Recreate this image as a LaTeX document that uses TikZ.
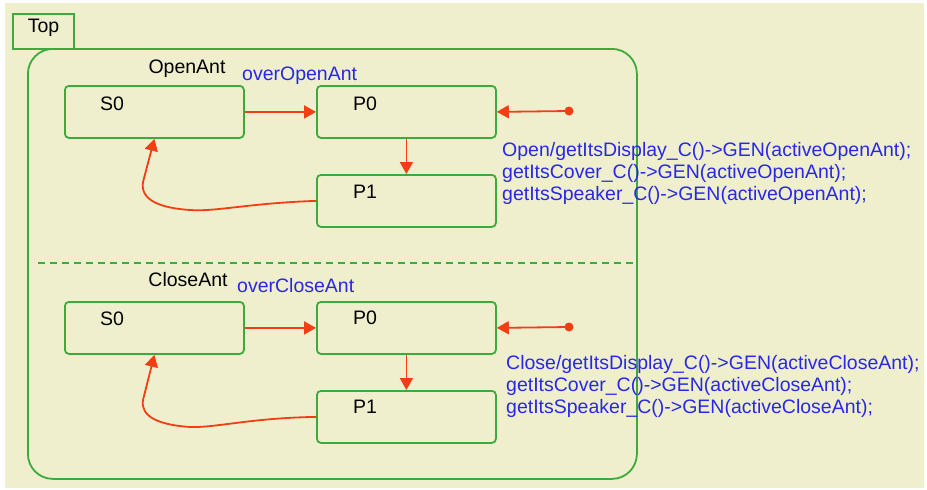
\documentclass[tikz,border=0pt]{standalone}
\usepackage{fontspec}
\setmainfont{Liberation Sans}
\usetikzlibrary{arrows.meta,calc}
\definecolor{bg}{RGB}{239,239,206}
\definecolor{sgreen}{RGB}{60,170,60}
\definecolor{tred}{RGB}{242,62,18}
\definecolor{tblue}{RGB}{40,40,230}
\begin{document}
\begin{tikzpicture}[x=1pt,y=-1pt,
  stbox/.style={draw=sgreen,line width=1.8pt,rounded corners=4pt,minimum width=179pt,minimum height=52pt,inner sep=0pt,anchor=north west},
  txt/.style={font=\fontsize{19.5}{22}\selectfont,inner sep=0pt,anchor=base west},
  btxt/.style={txt,text=tblue},
  trans/.style={draw=tred,line width=1.8pt,-{Triangle[length=12pt,width=13pt]}},
  dotc/.style={fill=tred}]
\useasboundingbox (0,0) rectangle (927,490);
\fill[white] (0,0) rectangle (927,490);
\fill[bg] (5,3) rectangle (924,488);
% outer state
\node[draw=sgreen,line width=1.8pt,rounded corners=25pt,minimum width=609pt,minimum height=430pt,inner sep=0pt,anchor=north west] (topst) at (27,48) {};
\node[draw=sgreen,line width=1.8pt,minimum width=61pt,minimum height=35pt,inner sep=0pt,anchor=north west] (tab) at (12,13) {};
\node[txt,anchor=base] (toplbl) at (43.5,32) {Top};
% separator
\draw[sgreen,line width=1.5pt,dash pattern=on 7pt off 5pt] (38,263) -- (636,263);
% ---- upper region
\node[txt,anchor=base] (openant) at (187,73) {OpenAnt};
\node[btxt] (overopen) at (242,80) {overOpenAnt};
\node[stbox] (s0a) at (64,85) {};
\node[stbox] (p0a) at (316,85) {};
\node[stbox] (p1a) at (316,174) {};
\node[txt] (s0atxt) at ($(s0a.north west)+(36,25)$) {S0};
\node[txt] (p0atxt) at ($(p0a.north west)+(37,25)$) {P0};
\node[txt] (p1atxt) at ($(p1a.north west)+(37,24)$) {P1};
\coordinate (da) at (569,111);
\draw[trans] (s0a.east) -- (p0a.west);
\draw[trans] (p0a.south) -- (p1a.north);
\draw[trans] (da) -- (p0a.east);
\fill[dotc] (da) circle (4.5pt);
\draw[trans] (p1a.west) .. controls (250,203) and (215,212) .. (190,210) .. controls (160,208) and (140,200) .. (143,182) -- (s0a.south);
\node[btxt,align=left,anchor=north west] (lblopen) at (502,142) {Open/getItsDisplay\_C()->GEN(activeOpenAnt);\\getItsCover\_C()->GEN(activeOpenAnt);\\getItsSpeaker\_C()->GEN(activeOpenAnt);};
% ---- lower region
\node[txt,anchor=base] (closeant) at (188,286) {CloseAnt};
\node[btxt] (overclose) at (237,292) {overCloseAnt};
\node[stbox] (s0b) at (64,301) {};
\node[stbox] (p0b) at (316,301) {};
\node[stbox] (p1b) at (316,390) {};
\node[txt] (s0btxt) at ($(s0b.north west)+(36,24)$) {S0};
\node[txt] (p0btxt) at ($(p0b.north west)+(37,23)$) {P0};
\node[txt] (p1btxt) at ($(p1b.north west)+(37,23)$) {P1};
\coordinate (db) at (569,327);
\draw[trans] (s0b.east) -- (p0b.west);
\draw[trans] (p0b.south) -- (p1b.north);
\draw[trans] (db) -- (p0b.east);
\fill[dotc] (db) circle (4.5pt);
\draw[trans] (p1b.west) .. controls (250,418) and (215,428) .. (190,427) .. controls (160,425) and (140,417) .. (143,400) -- (s0b.south);
\node[btxt,align=left,anchor=north west] (lblclose) at (506,355) {Close/getItsDisplay\_C()->GEN(activeCloseAnt);\\getItsCover\_C()->GEN(activeCloseAnt);\\getItsSpeaker\_C()->GEN(activeCloseAnt);};
\end{tikzpicture}
\end{document}
